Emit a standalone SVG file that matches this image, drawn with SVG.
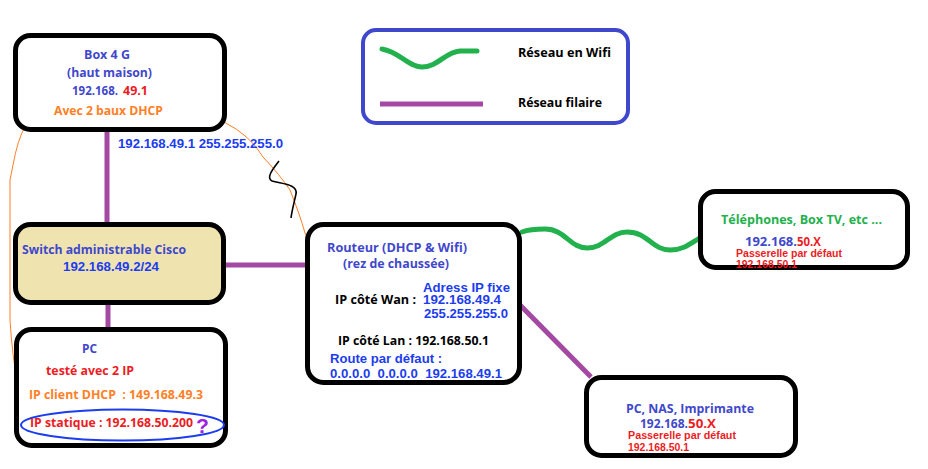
<svg xmlns="http://www.w3.org/2000/svg" width="928" height="469" viewBox="0 0 928 469">
<style>
.box{fill:#fff;stroke:#000;stroke-width:5}
.c{font-family:"Open Sans","Noto Sans",sans-serif;font-weight:bold;font-size:13px}
.m{font-size:12px}
.a{font-family:"Liberation Sans",Arial,sans-serif;font-weight:bold;font-size:13px}
.s{font-family:"Liberation Sans",Arial,sans-serif;font-weight:bold;font-size:10px}
.pre{white-space:pre}
.ind{fill:#3f48cc}.blu{fill:#1c3cf0}.red{fill:#ed1c24}.org{fill:#ff7f27}.grn{fill:#22b14c}.blk{fill:#000}
.wire{stroke:#a349a4;stroke-width:5;fill:none}
.wifi{stroke:#22b14c;stroke-width:5;fill:none;stroke-linecap:round}
.ann{stroke:#ff7f27;stroke-width:1;fill:none}
</style>
<rect width="928" height="469" fill="#fff"/>
<g id="connectors">
<line class="wire" x1="107" y1="130" x2="107" y2="224"/>
<line class="wire" x1="108" y1="303" x2="108" y2="330"/>
<line class="wire" x1="224" y1="265" x2="307" y2="265"/>
<line class="wire" x1="520" y1="305" x2="591" y2="377"/>
<path class="wifi" d="M522,232 Q530,229 545,229 C565,229 570,248 587,248 C605,248 610,232 627,232 C648,232 652,250 670,250 C683,250 690,244 698,239"/>
<path class="ann" d="M55,110 L44,109 Q22,115 13,165 L10,180 L10,320 Q12,355 19,393"/>
<path class="ann" d="M166,106 L195,106 Q215,112 224,122 Q250,135 263,157 Q280,175 290,190 Q300,215 305,233 Q320,265 333,292"/>
<path d="M279,161 C272,170 266,178 272,181 C282,184 298,184 296,194 C294,203 292,210 291,218" stroke="#000" stroke-width="1.6" fill="none"/>
</g>
<g id="legend">
<rect x="363" y="30" width="265" height="93" rx="13" fill="#fff" stroke="#3f48cc" stroke-width="4"/>
<path class="wifi" d="M382,49 C400,52 408,67 422,67 C438,67 445,52 460,51 L477,51" stroke-linecap="butt"/>
<line class="wire" x1="380" y1="104" x2="483" y2="104"/>
<text class="c blk" x="518" y="57" textLength="93" lengthAdjust="spacingAndGlyphs">Réseau en Wifi</text>
<text class="c blk" x="518" y="107" textLength="84" lengthAdjust="spacingAndGlyphs">Réseau filaire</text>
</g>
<g id="box4g">
<rect class="box" x="15.5" y="35.5" width="209" height="94" rx="15"/>
<text class="c ind" x="84" y="59" textLength="46" lengthAdjust="spacingAndGlyphs">Box 4 G</text>
<text class="c ind" x="67" y="77" textLength="85" lengthAdjust="spacingAndGlyphs">(haut maison)</text>
<text class="c" y="95"><tspan class="ind" x="72" textLength="46" lengthAdjust="spacingAndGlyphs">192.168.</tspan><tspan class="red" x="123" textLength="25" lengthAdjust="spacingAndGlyphs">49.1</tspan></text>
<text class="c org" x="54" y="115" textLength="109" lengthAdjust="spacingAndGlyphs">Avec 2 baux DHCP</text>
</g>
<text class="a blu" x="118" y="148" textLength="165" lengthAdjust="spacingAndGlyphs">192.168.49.1 255.255.255.0</text>
<g id="switch">
<rect x="15.5" y="224.5" width="208" height="78" rx="15" fill="#efe4b0" stroke="#000" stroke-width="5"/>
<text class="c ind" x="22" y="254" textLength="164" lengthAdjust="spacingAndGlyphs">Switch administrable Cisco</text>
<text class="a blu" x="63" y="271" textLength="96" lengthAdjust="spacingAndGlyphs">192.168.49.2/24</text>
</g>
<g id="pc">
<rect class="box" x="16.5" y="329.5" width="209" height="116" rx="15"/>
<text class="c ind" x="82" y="353" textLength="15" lengthAdjust="spacingAndGlyphs">PC</text>
<text class="c red" x="46" y="375" textLength="88" lengthAdjust="spacingAndGlyphs">testé avec 2 IP</text>
<text class="c org pre" x="29" y="399" textLength="174" lengthAdjust="spacingAndGlyphs">IP client DHCP  : 149.168.49.3</text>
<ellipse cx="122.5" cy="425" rx="101.5" ry="15.5" fill="none" stroke="#1c3cf0" stroke-width="2"/>
<text class="c red" x="30" y="427" textLength="163" lengthAdjust="spacingAndGlyphs">IP statique : 192.168.50.200</text>
<text x="196" y="433" font-family="Liberation Sans, Arial, sans-serif" font-weight="bold" font-size="21" fill="#a020e0">?</text>
</g>
<g id="routeur">
<rect class="box" x="307.5" y="224.5" width="212" height="158" rx="16"/>
<text class="c ind" x="327" y="252" textLength="140" lengthAdjust="spacingAndGlyphs">Routeur (DHCP &amp; Wifi)</text>
<text class="c ind" x="343" y="268" textLength="106" lengthAdjust="spacingAndGlyphs">(rez de chaussée)</text>
<text class="c blk" x="335" y="304" textLength="81" lengthAdjust="spacingAndGlyphs">IP côté Wan :</text>
<text class="a blu" x="423" y="292" textLength="87" lengthAdjust="spacingAndGlyphs">Adress IP fixe</text>
<text class="a blu" x="423" y="304" textLength="78" lengthAdjust="spacingAndGlyphs">192.168.49.4</text>
<text class="a blu" x="424" y="318" textLength="84" lengthAdjust="spacingAndGlyphs">255.255.255.0</text>
<text class="c blk" x="338" y="345" textLength="151" lengthAdjust="spacingAndGlyphs">IP côté Lan : 192.168.50.1</text>
<text class="a blu" x="330" y="363" textLength="112" lengthAdjust="spacingAndGlyphs">Route par défaut :</text>
<text class="a blu pre" x="330" y="378" textLength="172" lengthAdjust="spacingAndGlyphs">0.0.0.0  0.0.0.0  192.168.49.1</text>
</g>
<g id="telephones">
<rect class="box" x="700.5" y="191.5" width="207" height="76" rx="15"/>
<text class="c grn" x="721" y="224" textLength="161" lengthAdjust="spacingAndGlyphs">Téléphones, Box TV, etc ...</text>
<text class="c m" y="246"><tspan class="ind" x="745" textLength="52" lengthAdjust="spacingAndGlyphs">192.168.</tspan><tspan class="red" x="797" textLength="24" lengthAdjust="spacingAndGlyphs">50.X</tspan></text>
<text class="s red" x="736" y="256.5" textLength="106" lengthAdjust="spacingAndGlyphs">Passerelle par défaut</text>
<text class="s red" x="736" y="268" textLength="61" lengthAdjust="spacingAndGlyphs">192.168.50.1</text>
</g>
<g id="pcnas">
<rect class="box" x="586.5" y="377.5" width="209" height="78" rx="15"/>
<text class="c ind" x="626" y="413" textLength="128" lengthAdjust="spacingAndGlyphs">PC, NAS, Imprimante</text>
<text class="c m" y="427.5"><tspan class="ind" x="640" textLength="48" lengthAdjust="spacingAndGlyphs">192.168.</tspan><tspan class="red" x="688" textLength="28" lengthAdjust="spacingAndGlyphs">50.X</tspan></text>
<text class="s red" x="628" y="439" textLength="108" lengthAdjust="spacingAndGlyphs">Passerelle par défaut</text>
<text class="s red" x="628" y="451" textLength="61" lengthAdjust="spacingAndGlyphs">192.168.50.1</text>
</g>
</svg>
